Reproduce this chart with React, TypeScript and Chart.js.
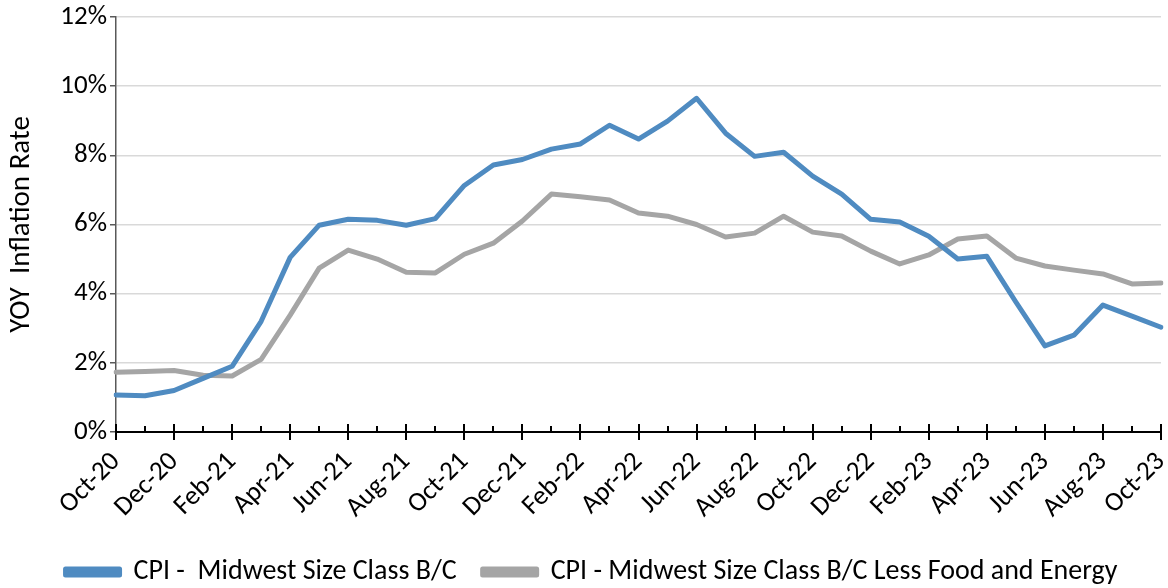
import React, { useEffect, useRef } from "react";
import { Chart, registerables } from "chart.js";

Chart.register(...registerables);

const months: string[] = [
  "Oct-20", "Nov-20", "Dec-20", "Jan-21", "Feb-21", "Mar-21", "Apr-21", "May-21", "Jun-21", "Jul-21",
  "Aug-21", "Sep-21", "Oct-21", "Nov-21", "Dec-21", "Jan-22", "Feb-22", "Mar-22", "Apr-22", "May-22",
  "Jun-22", "Jul-22", "Aug-22", "Sep-22", "Oct-22", "Nov-22", "Dec-22", "Jan-23", "Feb-23", "Mar-23",
  "Apr-23", "May-23", "Jun-23", "Jul-23", "Aug-23", "Sep-23", "Oct-23",
];

const cpiAll: number[] = [
  1.07, 1.05, 1.2, 1.55, 1.9, 3.2, 5.05, 5.98, 6.15, 6.12,
  5.98, 6.17, 7.13, 7.72, 7.88, 8.18, 8.33, 8.87, 8.47, 8.99,
  9.65, 8.64, 7.97, 8.09, 7.4, 6.88, 6.15, 6.07, 5.66, 5.0,
  5.08, 3.76, 2.49, 2.8, 3.67, 3.35, 3.03,
];

const cpiCore: number[] = [
  1.73, 1.75, 1.78, 1.64, 1.62, 2.1, 3.38, 4.74, 5.26, 5.0,
  4.62, 4.6, 5.14, 5.46, 6.1, 6.88, 6.8, 6.71, 6.33, 6.24,
  6.0, 5.64, 5.75, 6.24, 5.78, 5.67, 5.23, 4.86, 5.12, 5.58,
  5.67, 5.03, 4.8, 4.68, 4.57, 4.28, 4.31,
];

const yTicks: number[] = [0, 2, 4, 6, 8, 10, 12];

const seriesNames: string[] = [
  "CPI -  Midwest Size Class B/C",
  "CPI - Midwest Size Class B/C Less Food and Energy",
];

const FONT = "Carlito, 'Liberation Sans Narrow', 'Open Sans', sans-serif";

const xTickPlugin = {
  id: "xTickMarks",
  afterDraw(chart: any) {
    const x = chart.scales.x;
    const y0 = chart.chartArea.bottom;
    const ctx = chart.ctx;
    ctx.save();
    ctx.strokeStyle = "#000000";
    ctx.lineWidth = 2;
    for (let i = 0; i < months.length; i++) {
      const px = Math.round(x.getPixelForValue(i));
      ctx.beginPath();
      if (i % 2 === 0) {
        ctx.moveTo(px, y0 - 8);
        ctx.lineTo(px, y0 + 8);
      } else {
        ctx.moveTo(px, y0 - 6);
        ctx.lineTo(px, y0);
      }
      ctx.stroke();
    }
    ctx.restore();
  },
};

const legendShiftPlugin = {
  id: "legendShift",
  afterLayout(chart: any) {
    const lg = chart.legend;
    if (!lg) return;
    lg.left += 11;
    lg.right += 11;
    lg.top += 8;
    lg.bottom += 8;
  },
};

export default function App() {
  const ref = useRef<HTMLCanvasElement | null>(null);

  useEffect(() => {
    document.body.style.margin = "0";
    if (!ref.current) return;
    const chart = new Chart(ref.current, {
      type: "line",
      data: {
        labels: months,
        datasets: [
          {
            label: seriesNames[0],
            data: cpiAll,
            borderColor: "#4F8BC1",
            backgroundColor: "#4F8BC1",
            borderWidth: 5,
            borderJoinStyle: "round",
            borderCapStyle: "round",
            pointRadius: 0,
            tension: 0,
          },
          {
            label: seriesNames[1],
            data: cpiCore,
            borderColor: "#A5A5A5",
            backgroundColor: "#A5A5A5",
            borderWidth: 5,
            borderJoinStyle: "round",
            borderCapStyle: "round",
            pointRadius: 0,
            tension: 0,
          },
        ],
      },
      options: {
        animation: false,
        responsive: false,
        maintainAspectRatio: false,
        layout: { padding: { left: 0, right: 7, top: 17, bottom: 0 } },
        plugins: {
          tooltip: { enabled: false },
          legend: {
            position: "bottom",
            labels: {
              font: { family: FONT, size: 28 },
              color: "#000000",
              boxWidth: 54,
              boxHeight: 6,
              padding: 26,
            },
          },
        },
        scales: {
          x: {
            type: "category",
            offset: false,
            grid: { display: false, drawTicks: false },
            border: { display: true, color: "#000000", width: 2 },
            ticks: {
              autoSkip: false,
              maxRotation: 45,
              minRotation: 45,
              padding: 14,
              font: { family: FONT, size: 27 },
              color: "#000000",
              callback: (_v: any, i: number) => (i % 2 === 0 ? months[i] : ""),
            },
            afterFit: (s: any) => {
              const lh = s.chart.legend ? s.chart.legend.height : 60;
              s.height = 588 - 432 - lh;
              s.paddingLeft = 0;
              s.paddingRight = 0;
            },
          },
          y: {
            min: 0,
            max: 12,
            afterBuildTicks: (s: any) => {
              s.ticks = yTicks.map((v) => ({ value: v }));
            },
            grid: {
              color: (c: any) => (c.tick && c.tick.value === 0 ? "rgba(0,0,0,0)" : "#D9D9D9"),
              lineWidth: 1.5,
              tickLength: 6,
              tickColor: "#595959",
            },
            border: { display: true, color: "#595959", width: 1.5 },
            ticks: {
              padding: 3,
              font: { family: FONT, size: 27 },
              color: "#000000",
              callback: (v: any) => v + "%",
            },
            title: {
              display: true,
              text: "YOY  Inflation Rate",
              font: { family: FONT, size: 29 },
              color: "#000000",
              padding: { top: 4, bottom: 4 },
            },
            afterFit: (s: any) => {
              s.width = 116;
              s.paddingTop = 0;
              s.paddingBottom = 0;
            },
          },
        },
      },
      plugins: [xTickPlugin, legendShiftPlugin],
    });
    return () => chart.destroy();
  }, []);

  return (
    <div style={{ width: 1168, height: 588 }}>
      <canvas ref={ref} width={1168} height={588} style={{ display: "block" }} />
    </div>
  );
}
